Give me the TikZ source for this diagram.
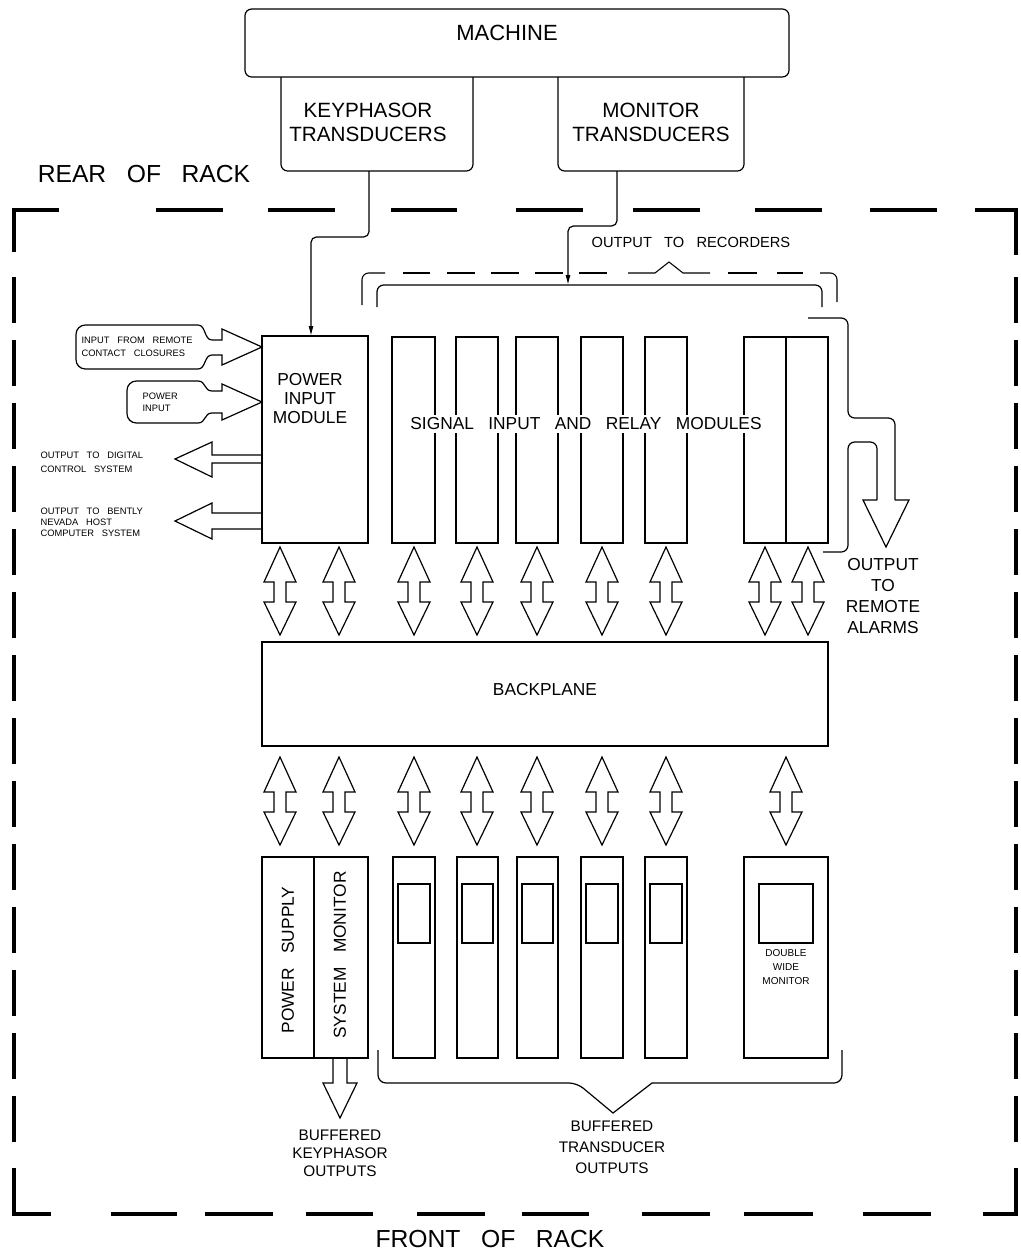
\documentclass[tikz,border=0pt]{standalone}
\usepackage{fontspec}
\setmainfont{Liberation Sans}[WordSpace=3]
\usetikzlibrary{arrows.meta}
\newcommand{\dblarr}[3]{%
  \draw (#1,#2) -- (#1+16,#2+35) -- (#1+6,#2+35) -- (#1+6,#3-33) -- (#1+16,#3-33) -- (#1,#3)
    -- (#1-16,#3-33) -- (#1-6,#3-33) -- (#1-6,#2+35) -- (#1-16,#2+35) -- cycle;}
\newcommand{\boxat}[5]{\node[boxst,minimum width={(#4)*0.75pt},minimum height={(#5)*0.75pt},anchor=north west] (#1) at (#2,#3) {};}
\begin{document}
\begin{tikzpicture}[x=0.75pt,y=-0.75pt,line width=0.9pt,
  boxst/.style={draw,inner sep=0pt,outer sep=0pt},
  txt/.style={inner sep=0pt,align=center},
  fbig/.style={txt,font=\fontsize{16.5}{20}\selectfont},
  frack/.style={txt,font=\fontsize{18.5}{22}\selectfont},
  fkey/.style={txt,font=\fontsize{15.5}{18}\selectfont},
  fmid/.style={txt,font=\fontsize{13}{14.6}\selectfont},
  fbuf/.style={txt,font=\fontsize{11.5}{13.5}\selectfont},
  fsmall/.style={inner sep=0pt,align=left,font=\fontsize{7}{9.75}\selectfont},
  rack/.style={line width=3.5pt},
  conn/.style={-{Latex[length=7.5pt,width=3.8pt]},rounded corners=4pt}]
\useasboundingbox (0,0) rectangle (1021,1257);

% ---------------- rack boundary ----------------
\draw[rack] (14,252) -- (14,210) -- (59,210);
\foreach \a/\b in {156/223,268/335,391/457,516/583,633/700,755/822,870/937}
  \draw[rack] (\a,210) -- (\b,210);
\draw[rack] (975,210) -- (1016,210) -- (1016,255);
\foreach \k in {0,...,13}{
  \draw[rack] (14,277+63*\k) -- (14,323+63*\k);
  \draw[rack] (1016,277+63*\k) -- (1016,323+63*\k);}
\draw[rack] (14,1168) -- (14,1214) -- (51,1214);
\foreach \a/\b in {111/177,205/273,306/373,417/485,522/589,642/710,744/813,863/931}
  \draw[rack] (\a,1214) -- (\b,1214);
\draw[rack] (983,1214) -- (1016,1214) -- (1016,1168);
\node[frack] (rear) at (144,174) {REAR OF RACK};
\node[frack] (front) at (490,1239) {FRONT OF RACK};

% ---------------- machine & transducers ----------------
\draw[rounded corners=5pt] (245,9) rectangle (789,77);
\node[fbig] (machine) at (507,33) {MACHINE};
\draw[rounded corners=5pt] (281,77) -- (281,171) -- (473,171) -- (473,77);
\draw[rounded corners=5pt] (558,77) -- (558,171) -- (744,171) -- (744,77);
\node[fkey] (kptext) at (368,122) {KEYPHASOR\\TRANSDUCERS};
\node[fkey] (mttext) at (651,122) {MONITOR\\TRANSDUCERS};
\coordinate (kpout) at (369,171);
\coordinate (mtout) at (617,171);

% ---------------- power input module ----------------
\boxat{pim}{262}{336}{106}{207}
\node[fmid] (pimtext) at (310,398.5) {POWER\\INPUT\\MODULE};
\draw[conn] (kpout) -- (369,237) -- (311,237) -- (311,336);

% input shapes
\draw (198,325) .. controls (206,325) and (204,340) .. (212,340) -- (222,340) -- (222,329) -- (262,347)
  -- (222,365) -- (222,355) -- (212,355) .. controls (204,355) and (206,369) .. (198,369)
  [rounded corners=7pt] -- (76,369) -- (76,325) -- (198,325);
\node[fsmall,anchor=north west] (lblremote) at (81,336.5) {INPUT FROM REMOTE\\CONTACT CLOSURES};
\draw (198,381) .. controls (206,381) and (204,391) .. (212,391) -- (222,391) -- (222,384) -- (262,402)
  -- (222,420) -- (222,413) -- (212,413) .. controls (204,413) and (206,423) .. (198,423)
  [rounded corners=7pt] -- (127,423) -- (127,381) -- (198,381);
\node[fsmall,anchor=north west,font=\fontsize{7}{9}\selectfont] (lblpower) at (142,392.5) {POWER\\INPUT};

% output arrows
\draw (262,455) -- (212,455) -- (212,442) -- (175,459) -- (212,477) -- (212,463) -- (262,463);
\draw (262,513) -- (212,513) -- (212,503) -- (175,521) -- (212,539) -- (212,529) -- (262,529);
\node[fsmall,anchor=north west,font=\fontsize{7}{10.5}\selectfont] (lbldcs) at (40,451.5) {OUTPUT TO DIGITAL\\CONTROL SYSTEM};
\node[fsmall,anchor=north west,font=\fontsize{7}{8.25}\selectfont] (lblbn) at (40,507.5) {OUTPUT TO BENTLY\\NEVADA HOST\\COMPUTER SYSTEM};

% ---------------- signal input and relay modules ----------------
\boxat{m1}{392}{337}{43}{206}
\boxat{m2}{456}{337}{42}{206}
\boxat{m3}{516}{337}{42}{206}
\boxat{m4}{581}{337}{42}{206}
\boxat{m5}{645}{337}{42}{206}
\boxat{m6}{744}{337}{42}{206}
\boxat{m7}{786}{337}{42}{206}
\node[fmid,fill=white,inner sep=2pt] (sigtext) at (586,424) {SIGNAL INPUT AND RELAY MODULES};

% recorders
\draw[rounded corners=5pt] (377,307) -- (377,285) -- (822,285) -- (822,307);
\draw[line width=0.8pt,rounded corners=5pt] (362,305) -- (362,273) -- (385,273);
\foreach \a/\b in {403/430,447/475,491/519,535/563,579/607,728/757,777/803}
  \draw[line width=0.8pt] (\a,273) -- (\b,273);
\draw[line width=0.8pt] (628,273) -- (655,273) -- (669,262) -- (683,273) -- (710,273);
\draw[line width=0.8pt,rounded corners=5pt] (820,273) -- (837,273) -- (837,302);
\node[fbuf,font=\fontsize{11}{13}\selectfont] (rectext) at (691,242) {OUTPUT TO RECORDERS};
\draw[conn] (mtout) -- (617,226) -- (568,226) -- (568,285);

% remote alarms
\draw[rounded corners=5pt] (808,318) -- (848,318) -- (848,418) -- (895,418) -- (895,500);
\draw (895,500) -- (909,500) -- (886,547) -- (863,500) -- (877,500);
\draw[rounded corners=5pt] (877,500) -- (877,442) -- (848,442) -- (848,552) -- (823,552);
\node[fmid,font=\fontsize{13}{15.75}\selectfont] (alarmtext) at (883,596.5) {OUTPUT\\TO\\REMOTE\\ALARMS};

% ---------------- backplane ----------------
\boxat{bp}{262}{642}{566}{104}
\node[fmid] (bptext) at (545,690) {BACKPLANE};
\foreach \x in {280,339,414,477,537,602,666,765,808} { \dblarr{\x}{547}{635} }
\foreach \x in {280,339,414,477,537,602,666,786} { \dblarr{\x}{757}{845} }

% ---------------- front modules ----------------
\boxat{ps}{262}{857}{52}{201}
\boxat{sm}{314}{857}{54}{201}
\node[fmid,rotate=90] (pstext) at (288,960) {POWER SUPPLY};
\node[fmid,rotate=90] (smtext) at (340,955) {SYSTEM MONITOR};
\foreach \n/\x/\w in {f1/393/42,f2/457/41,f3/517/41,f4/581/42,f5/645/42}{
  \boxat{\n}{\x}{857}{\w}{201}
  \draw (\x+5,884) rectangle (\x+\w-5,943);}
\boxat{dw}{744}{857}{84}{201}
\draw (759,884) rectangle (813,943);
\node[txt,font=\fontsize{7.5}{10.5}\selectfont] (dwtext) at (786,967) {DOUBLE\\WIDE\\MONITOR};

% buffered keyphasor outputs
\draw (333,1058) -- (333,1083) -- (323,1083) -- (340,1118) -- (357,1083) -- (347,1083) -- (347,1058);
\node[fbuf] (bktext) at (340,1153) {BUFFERED\\KEYPHASOR\\OUTPUTS};

% buffered transducer outputs
\draw (378,1050) [rounded corners=6pt] -- (378,1083) -- (577,1083) [sharp corners] -- (613,1113) -- (652,1083) [rounded corners=6pt] -- (842,1083) -- (842,1050);
\node[fbuf,font=\fontsize{11.5}{15.75}\selectfont] (bttext) at (612,1147) {BUFFERED\\TRANSDUCER\\OUTPUTS};
\end{tikzpicture}
\end{document}
